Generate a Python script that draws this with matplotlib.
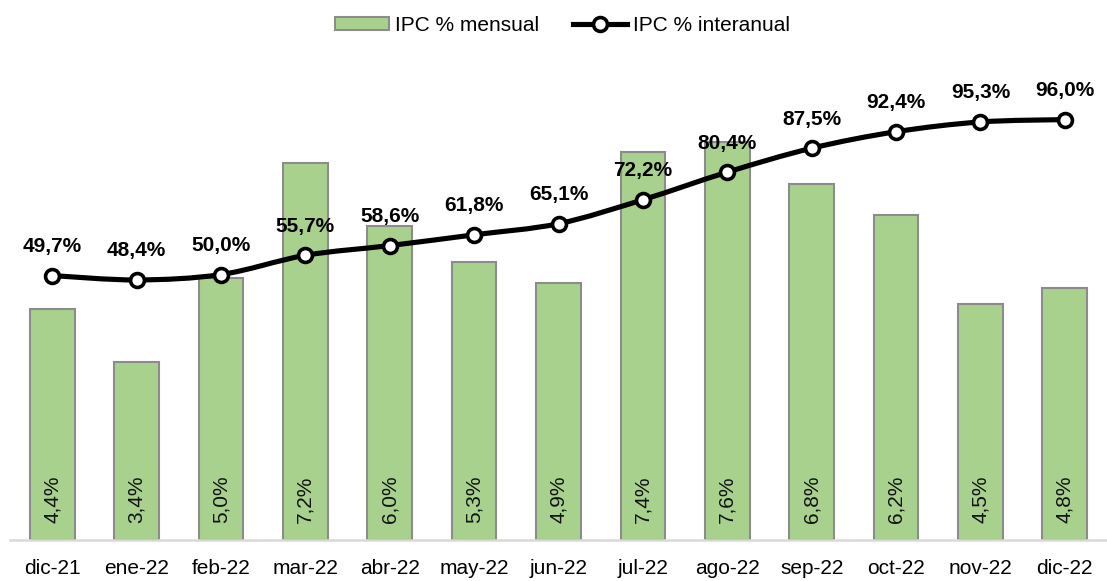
import matplotlib
matplotlib.use("Agg")
import matplotlib.pyplot as plt
from matplotlib.path import Path
from matplotlib.patches import PathPatch
from matplotlib.lines import Line2D
from matplotlib.patches import Patch
import numpy as np

plt.rcParams['font.family'] = ['Liberation Sans', 'DejaVu Sans']

meses = ['dic-21', 'ene-22', 'feb-22', 'mar-22', 'abr-22', 'may-22', 'jun-22',
         'jul-22', 'ago-22', 'sep-22', 'oct-22', 'nov-22', 'dic-22']
ipc_mensual = [4.4, 3.4, 5.0, 7.2, 6.0, 5.3, 4.9, 7.4, 7.6, 6.8, 6.2, 4.5, 4.8]
ipc_interanual = [49.7, 48.4, 50.0, 55.7, 58.6, 61.8, 65.1, 72.2, 80.4, 87.5, 92.4, 95.3, 96.0]

BAR_GREEN = '#a9d18e'
BAR_EDGE = '#8c8c8c'


def fmt(v):
    # coma decimal, estilo es-AR
    return f'{v:.1f}%'.replace('.', ',')


def smooth_path(xs, ys):
    # curva suavizada tipo Excel (bezier catmull-rom)
    pts = np.column_stack([xs, ys]).astype(float)
    verts = [pts[0]]
    codes = [Path.MOVETO]
    n = len(pts)
    for i in range(n - 1):
        p0 = pts[i - 1] if i > 0 else pts[i]
        p1 = pts[i]
        p2 = pts[i + 1]
        p3 = pts[i + 2] if i + 2 < n else pts[i + 1]
        c1 = p1 + (p2 - p0) / 6.0
        c2 = p2 - (p3 - p1) / 6.0
        verts += [c1, c2, p2]
        codes += [Path.CURVE4] * 3
    return Path(verts, codes)


fig = plt.figure(figsize=(11.07, 5.81), dpi=100)
ax = fig.add_axes([10 / 1107, 41 / 581, 1097 / 1107, 471.6 / 581])
x = np.arange(len(meses))

ax.bar(x, ipc_mensual, width=0.53, color=BAR_GREEN, edgecolor=BAR_EDGE, linewidth=1.5, zorder=2)
ax.set_ylim(0, 9)
ax.set_xlim(-0.5, len(meses) - 0.5)
for xi, v in zip(x, ipc_mensual):
    ax.annotate(fmt(v), (xi, 0), xytext=(0, 17), textcoords='offset pixels',
                rotation=90, ha='center', va='bottom', fontsize=15, color='#111111', zorder=3)

for s in ['top', 'right', 'left']:
    ax.spines[s].set_visible(False)
ax.spines['bottom'].set_color('#d9d9d9')
ax.spines['bottom'].set_linewidth(1.8)
ax.set_yticks([])
ax.set_xticks(x)
ax.set_xticklabels(meses, fontsize=15)
ax.tick_params(axis='x', length=0, pad=14)

ax2 = ax.twinx()
ax2.set_ylim(-28.8, 111.2)
ax2.set_yticks([])
for s in ax2.spines.values():
    s.set_visible(False)
ax2.add_patch(PathPatch(smooth_path(x, ipc_interanual), facecolor='none',
                        edgecolor='black', linewidth=3.7, zorder=3))
ax2.plot(x, ipc_interanual, linestyle='none', marker='o', markersize=10,
         markerfacecolor='white', markeredgecolor='black', markeredgewidth=2.6, zorder=4)
for xi, v in zip(x, ipc_interanual):
    ax2.annotate(fmt(v), (xi, v), xytext=(0, 29), textcoords='offset pixels',
                 ha='center', va='center', fontsize=15, fontweight='bold', color='black')

handles = [Patch(facecolor=BAR_GREEN, edgecolor=BAR_EDGE, linewidth=1.5),
           Line2D([], [], color='black', linewidth=3.7, marker='o', markersize=10,
                  markerfacecolor='white', markeredgecolor='black', markeredgewidth=2.6)]
fig.legend(handles, ['IPC % mensual', 'IPC % interanual'], loc='upper center',
           bbox_to_anchor=(0.508, 1.005), ncol=2, frameon=False, fontsize=15,
           handlelength=2.6, handleheight=0.55, handletextpad=0.3, columnspacing=1.6)

fig.savefig('out.png', dpi=100)
